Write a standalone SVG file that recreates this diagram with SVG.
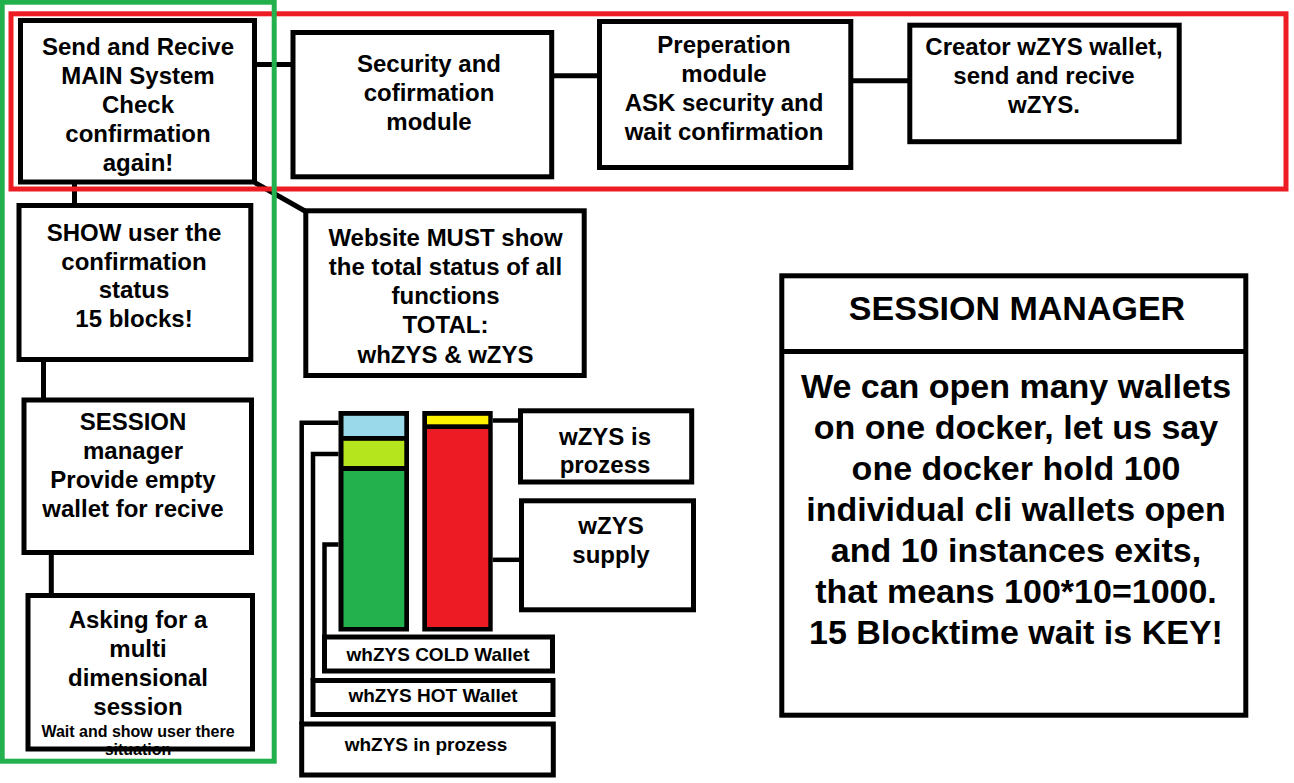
<svg xmlns="http://www.w3.org/2000/svg" width="1294" height="783" viewBox="0 0 1294 783">
<style>
.box{fill:#fff;stroke:#000;stroke-width:5}
.frame{fill:none;stroke:#000;stroke-width:5}
.conn{fill:none;stroke:#000;stroke-width:5}
.thin{fill:none;stroke:#000;stroke-width:4.5}
.t{font-family:"Liberation Sans",Arial,sans-serif;font-weight:bold;font-size:24px;text-anchor:middle;fill:#000}
.s{font-size:19px}
.xs{font-size:16px}
.big{font-size:34px}
</style>
<rect width="1294" height="783" fill="#fff"/>
<g id="connectors">
<line class="conn" x1="74.5" y1="182" x2="74.5" y2="205.5"/>
<line class="conn" x1="43.5" y1="359.5" x2="43.5" y2="400"/>
<line class="conn" x1="51.3" y1="552.5" x2="51.3" y2="595.5"/>
<line class="conn" x1="254.5" y1="64.5" x2="293" y2="64.5"/>
<line class="conn" x1="551.7" y1="75.8" x2="599.5" y2="75.8"/>
<line class="conn" x1="850.8" y1="80.8" x2="909.8" y2="80.8"/>
<line class="conn" stroke-width="4" x1="255" y1="182.7" x2="305.8" y2="211.5"/>
<polyline class="thin" points="338.5,422.7 301.7,422.7 301.7,724"/>
<polyline class="thin" points="338.5,454 313,454 313,680.5"/>
<polyline class="thin" points="338.5,544.5 324.5,544.5 324.5,637"/>
<line class="thin" x1="492.7" y1="420.5" x2="520.5" y2="420.5"/>
<line class="thin" x1="492.7" y1="559.8" x2="521.5" y2="559.8"/>
</g>
<g id="main">
<rect class="box" x="20.5" y="20.5" width="234" height="161.5"/>
<text class="t" x="138" y="55">Send and Recive</text>
<text class="t" x="138" y="84">MAIN System</text>
<text class="t" x="138" y="113">Check</text>
<text class="t" x="138" y="142">confirmation</text>
<text class="t" x="138" y="171">again!</text>
</g>
<g id="show">
<rect class="box" x="19" y="205.5" width="231.8" height="154"/>
<text class="t" x="134" y="241">SHOW user the</text>
<text class="t" x="134" y="270">confirmation</text>
<text class="t" x="134" y="298">status</text>
<text class="t" x="134" y="327">15 blocks!</text>
</g>
<g id="session">
<rect class="box" x="24" y="400" width="227.5" height="152.5"/>
<text class="t" x="133" y="430">SESSION</text>
<text class="t" x="133" y="459">manager</text>
<text class="t" x="133" y="488">Provide empty</text>
<text class="t" x="133" y="517">wallet for recive</text>
</g>
<g id="asking">
<rect x="28" y="595.5" width="224.5" height="153.5" fill="#fff"/>
<text class="t" x="138" y="628">Asking for a</text>
<text class="t" x="138" y="657">multi</text>
<text class="t" x="138" y="686">dimensional</text>
<text class="t" x="138" y="715">session</text>
<text class="t xs" x="138" y="737">Wait and show user there</text>
<text class="t xs" x="138" y="755">situation</text>
<rect class="frame" x="28" y="595.5" width="224.5" height="153.5"/>
</g>
<g id="security">
<rect class="box" x="293" y="32.5" width="258.7" height="144.3"/>
<text class="t" x="429" y="72">Security and</text>
<text class="t" x="429" y="101">cofirmation</text>
<text class="t" x="429" y="130">module</text>
</g>
<g id="preperation">
<rect class="box" x="599.5" y="21.5" width="251.3" height="146"/>
<text class="t" x="724" y="53">Preperation</text>
<text class="t" x="724" y="82">module</text>
<text class="t" x="724" y="111">ASK security and</text>
<text class="t" x="724" y="139.5">wait confirmation</text>
</g>
<g id="creator">
<rect class="box" x="909.8" y="25.2" width="269.4" height="116.5"/>
<text class="t" x="1044" y="55">Creator wZYS wallet,</text>
<text class="t" x="1044" y="84">send and recive</text>
<text class="t" x="1044" y="113">wZYS.</text>
</g>
<g id="website">
<rect class="box" x="305.8" y="210.8" width="278.4" height="164.7"/>
<text class="t" x="445.5" y="246">Website MUST show</text>
<text class="t" x="445.5" y="275">the total status of all</text>
<text class="t" x="445.5" y="304">functions</text>
<text class="t" x="445.5" y="333">TOTAL:</text>
<text class="t" x="445.5" y="362.5">whZYS &amp; wZYS</text>
</g>
<g id="session-manager">
<rect class="box" x="781.8" y="275.8" width="464" height="439.4"/>
<line class="conn" x1="781.8" y1="351.5" x2="1245.8" y2="351.5"/>
<text class="t big" x="1017" y="320">SESSION MANAGER</text>
<text class="t big" x="1016" y="398">We can open many wallets</text>
<text class="t big" x="1016" y="439">on one docker, let us say</text>
<text class="t big" x="1016" y="480">one docker hold 100</text>
<text class="t big" x="1016" y="521">individual cli wallets open</text>
<text class="t big" x="1016" y="562">and 10 instances exits,</text>
<text class="t big" x="1016" y="603">that means 100*10=1000.</text>
<text class="t big" x="1016" y="644">15 Blocktime wait is KEY!</text>
</g>
<g id="whzys-bar">
<rect x="338.5" y="411" width="70.5" height="220.5" fill="#000"/>
<rect x="343.5" y="415.8" width="60.8" height="20.2" fill="#99D9EA"/>
<rect x="343.5" y="440.8" width="60.8" height="25.2" fill="#B5E61D"/>
<rect x="343.5" y="471" width="60.8" height="156" fill="#22B14C"/>
</g>
<g id="wzys-bar">
<rect x="422.3" y="411" width="70.4" height="220.5" fill="#000"/>
<rect x="427" y="415.8" width="61.3" height="8.5" fill="#FFF200"/>
<rect x="427" y="429" width="61.3" height="198" fill="#ED1C24"/>
</g>
<g id="cold-wallet">
<rect class="box" stroke-width="4.5" x="324.5" y="637" width="228" height="34"/>
<text class="t s" x="438" y="661">whZYS COLD Wallet</text>
</g>
<g id="hot-wallet">
<rect class="box" stroke-width="4.5" x="313" y="680.5" width="240" height="34"/>
<text class="t s" x="433" y="701.5">whZYS HOT Wallet</text>
</g>
<g id="whzys-prozess">
<rect class="box" stroke-width="4.5" x="301.7" y="724" width="251.6" height="51"/>
<text class="t s" x="426" y="751">whZYS in prozess</text>
</g>
<g id="wzys-prozess">
<rect class="box" stroke-width="4.5" x="520.5" y="410.8" width="171.2" height="71.2"/>
<text class="t" x="605" y="445">wZYS is</text>
<text class="t" x="605" y="473">prozess</text>
</g>
<g id="wzys-supply">
<rect class="box" stroke-width="4.5" x="521.5" y="500.8" width="172" height="109"/>
<text class="t" x="611" y="534">wZYS</text>
<text class="t" x="611" y="563">supply</text>
</g>
<g id="red-group">
<rect x="11" y="13.8" width="1275" height="175.2" fill="none" stroke="#ED1C24" stroke-width="5"/>
</g>
<g id="green-group">
<rect x="2.2" y="2.2" width="272" height="759" fill="none" stroke="#22B14C" stroke-width="5"/>
</g>
</svg>
